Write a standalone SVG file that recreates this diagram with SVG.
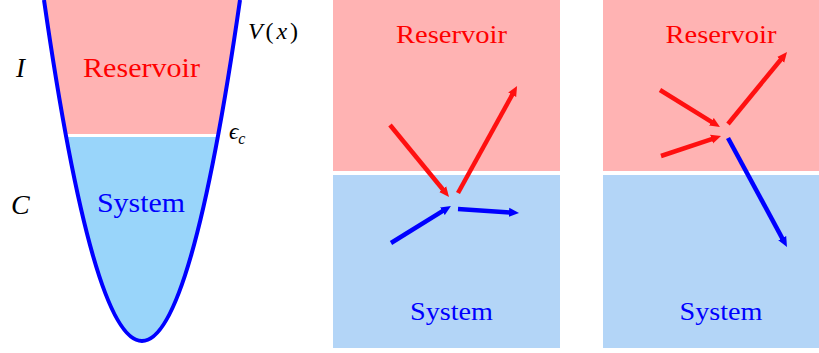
<svg xmlns="http://www.w3.org/2000/svg" width="819" height="353" viewBox="0 0 819 353">
<style>
text{font-family:"Liberation Serif","Times New Roman",serif}
.red{fill:#ff0000}
.blue{fill:#0000ff}
.math{font-style:italic;fill:#000}
.ar{stroke:#ff1010;stroke-width:4.5;fill:none}
.ab{stroke:#0000ff;stroke-width:4.5;fill:none}
</style>
<defs>
<clipPath id="well"><path d="M44,0 Q142,682 240,0 Z"/></clipPath>
<marker id="hr" viewBox="0 0 10 10" refX="1" refY="5" markerWidth="10" markerHeight="10" markerUnits="userSpaceOnUse" orient="auto"><path d="M0,0.5 L10,5 L0,9.5 Z" fill="#ff1010"/></marker>
<marker id="hb" viewBox="0 0 10 10" refX="1" refY="5" markerWidth="10" markerHeight="10" markerUnits="userSpaceOnUse" orient="auto"><path d="M0,0.5 L10,5 L0,9.5 Z" fill="#0000ff"/></marker>
</defs>
<rect width="819" height="353" fill="#fff"/>
<g id="well-diagram">
<g clip-path="url(#well)">
<rect x="0" y="0" width="300" height="134" fill="#ffb3b3"/>
<rect x="0" y="137" width="300" height="220" fill="#99d5fa"/>
</g>
<path d="M44,0 Q142,682 240,0" fill="none" stroke="#0000ff" stroke-width="4"/>
<text class="red" font-family="Liberation Serif, serif" x="141.5" y="77" font-size="27" text-anchor="middle" textLength="117" lengthAdjust="spacingAndGlyphs">Reservoir</text>
<text class="blue" font-family="Liberation Serif, serif" x="141" y="212" font-size="27" text-anchor="middle" textLength="88" lengthAdjust="spacingAndGlyphs">System</text>
<text class="math" font-family="Liberation Serif, serif" x="16" y="77" font-size="27">I</text>
<text class="math" font-family="Liberation Serif, serif" x="11" y="214" font-size="28">C</text>
<text class="math" font-family="Liberation Serif, serif" x="248" y="39" font-size="24" textLength="50" lengthAdjust="spacing">V<tspan font-style="normal">(</tspan>x<tspan font-style="normal">)</tspan></text>
<text class="math" font-family="Liberation Serif, serif" x="229" y="139" font-size="23">ϵ<tspan font-size="16" dy="5">c</tspan></text>
</g>
<g id="panel-middle">
<rect x="333" y="0" width="227" height="171" fill="#ffb3b3"/>
<rect x="333" y="175" width="227" height="173" fill="#b3d5f7"/>
<text class="red" font-family="Liberation Serif, serif" x="451.5" y="43" font-size="26" text-anchor="middle" textLength="111" lengthAdjust="spacingAndGlyphs">Reservoir</text>
<text class="blue" font-family="Liberation Serif, serif" x="451.5" y="320" font-size="26" text-anchor="middle" textLength="83" lengthAdjust="spacingAndGlyphs">System</text>
</g>
<g id="panel-right">
<rect x="603" y="0" width="216" height="171" fill="#ffb3b3"/>
<rect x="603" y="175" width="216" height="173" fill="#b3d5f7"/>
<text class="red" font-family="Liberation Serif, serif" x="721" y="43" font-size="26" text-anchor="middle" textLength="111" lengthAdjust="spacingAndGlyphs">Reservoir</text>
<text class="blue" font-family="Liberation Serif, serif" x="721" y="320" font-size="26" text-anchor="middle" textLength="83" lengthAdjust="spacingAndGlyphs">System</text>
</g>
<g id="connectors">
<line class="ar" x1="390" y1="125" x2="443.3" y2="190.0" marker-end="url(#hr)"/>
<line class="ar" x1="458" y1="193" x2="512.7" y2="93.9" marker-end="url(#hr)"/>
<line class="ab" x1="391" y1="243" x2="443.3" y2="210.7" marker-end="url(#hb)"/>
<line class="ab" x1="458" y1="209" x2="510.0" y2="212.4" marker-end="url(#hb)"/>
<line class="ar" x1="660" y1="90" x2="712.3" y2="122.3" marker-end="url(#hr)"/>
<line class="ar" x1="661" y1="156" x2="712.5" y2="138.8" marker-end="url(#hr)"/>
<line class="ar" x1="728" y1="124" x2="781.3" y2="59.0" marker-end="url(#hr)"/>
<line class="ab" x1="728" y1="138" x2="782.7" y2="239.1" marker-end="url(#hb)"/>
</g>
</svg>
